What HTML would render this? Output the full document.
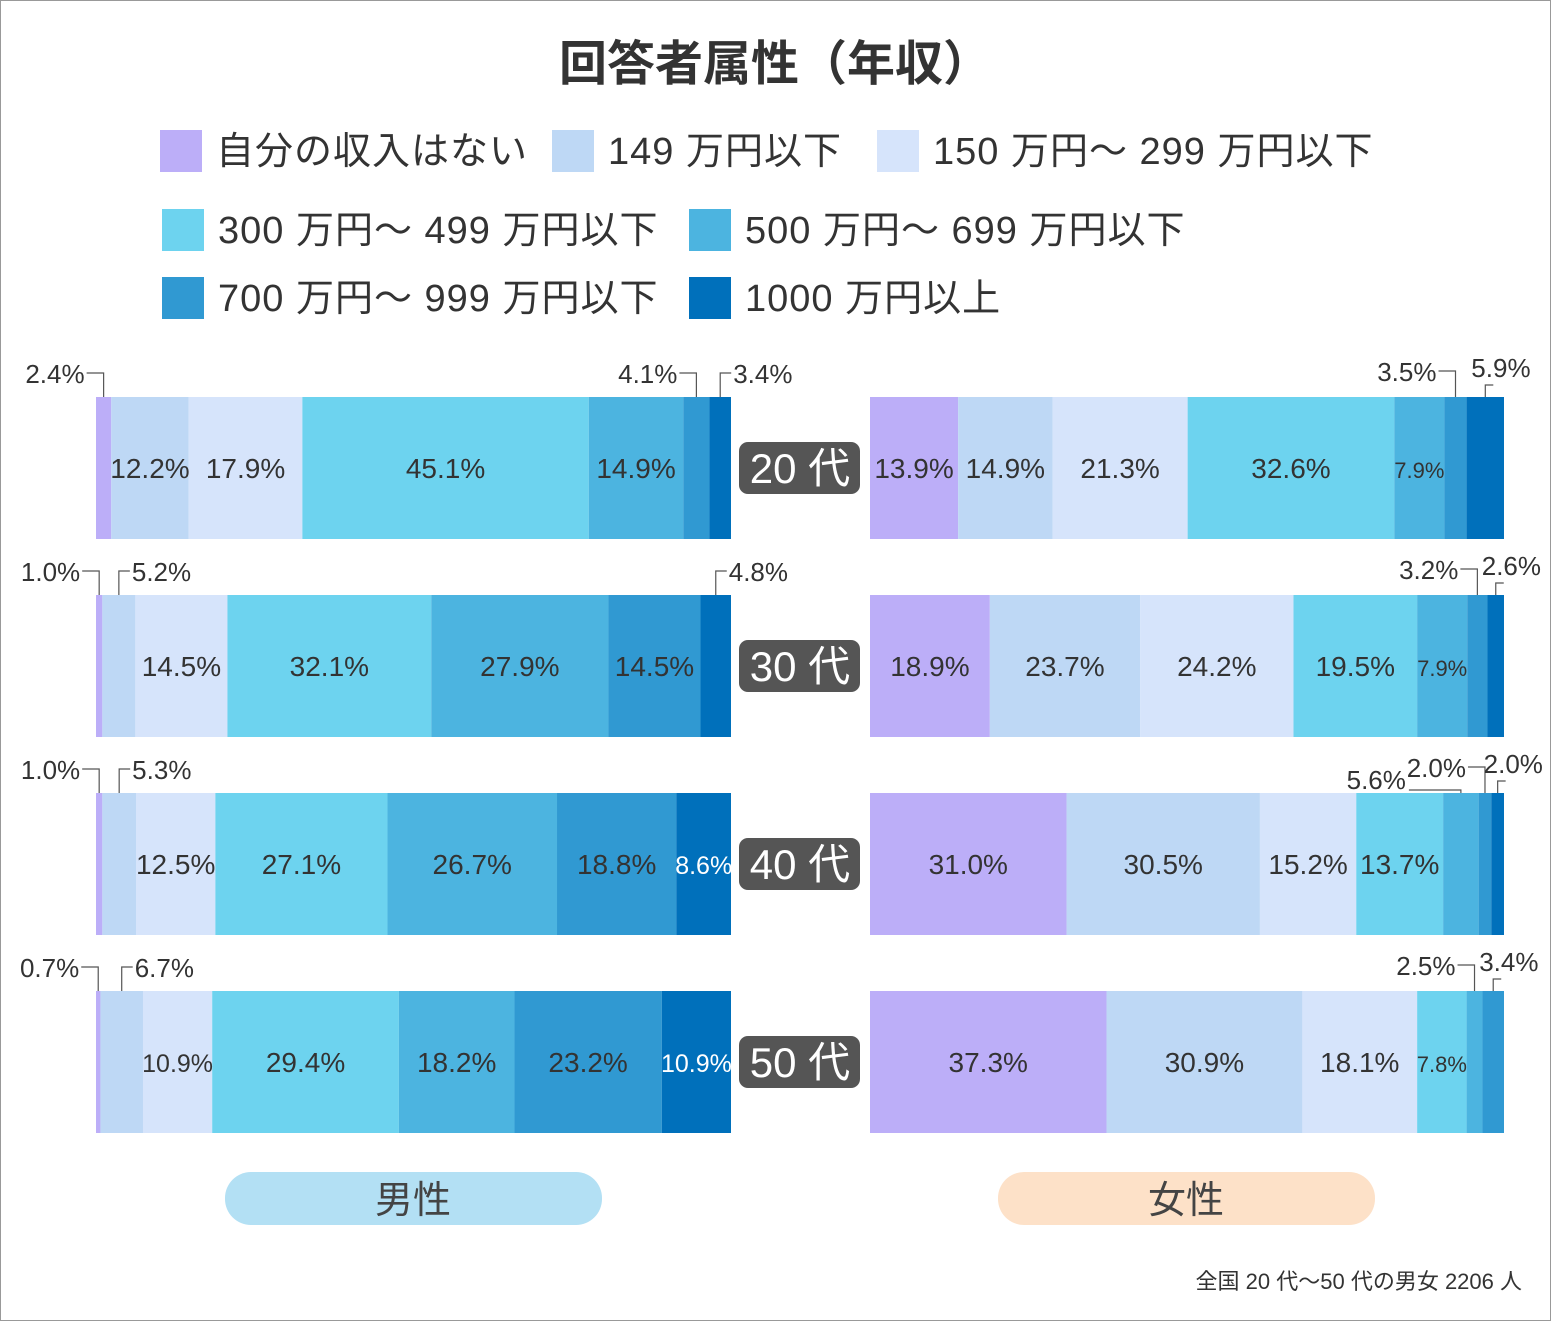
<!DOCTYPE html>
<html><head><meta charset="utf-8">
<style>
body{margin:0;background:#fff;}
svg{display:block;font-family:"Liberation Sans","Noto Sans CJK JP",sans-serif;}
</style></head>
<body>
<svg id="chart" width="1551" height="1321" viewBox="0 0 1551 1321" xmlns="http://www.w3.org/2000/svg">
<rect x="0.5" y="0.5" width="1550" height="1320" fill="#fff" stroke="#999"/>
<text x="775" y="80" text-anchor="middle" font-size="48" font-weight="bold" fill="#333">回答者属性（年収）</text>
<g id="legend"></g>
<g id="bars"></g>
<rect x="225" y="1172" width="377" height="53" rx="26" fill="#b3e0f4"/>
<text x="413" y="1213" text-anchor="middle" font-size="38" fill="#444">男性</text>
<rect x="998" y="1172" width="377" height="53" rx="26" fill="#fde1c8"/>
<text x="1186" y="1213" text-anchor="middle" font-size="38" fill="#444">女性</text>
<text x="1522" y="1289" text-anchor="end" font-size="22" fill="#333">全国 20 代〜50 代の男女 2206 人</text>
</svg>
<script>
const categories = ["自分の収入はない","149 万円以下","150 万円〜 299 万円以下","300 万円〜 499 万円以下","500 万円〜 699 万円以下","700 万円〜 999 万円以下","1000 万円以上"];
const ages = ["20 代","30 代","40 代","50 代"];
const maleValues = [
  [2.4,12.2,17.9,45.1,14.9,4.1,3.4],
  [1.0,5.2,14.5,32.1,27.9,14.5,4.8],
  [1.0,5.3,12.5,27.1,26.7,18.8,8.6],
  [0.7,6.7,10.9,29.4,18.2,23.2,10.9]
];
const femaleValues = [
  [13.9,14.9,21.3,32.6,7.9,3.5,5.9],
  [18.9,23.7,24.2,19.5,7.9,3.2,2.6],
  [31.0,30.5,15.2,13.7,5.6,2.0,2.0],
  [37.3,30.9,18.1,7.8,2.5,3.4,0]
];
const colors = ["#bcaef8","#bed8f5","#d6e4fb","#6dd3ef","#4cb4e0","#3099d2","#0070bb"];
const NS="http://www.w3.org/2000/svg";
function mk(tag,attrs,parent){const e=document.createElementNS(NS,tag);for(const k in attrs)e.setAttribute(k,attrs[k]);parent.appendChild(e);return e;}
const lg=document.getElementById('legend');
const legendPos=[[160,130],[552,130],[877,130],[162,209],[689,209],[162,277],[689,277]];
categories.forEach((c,i)=>{
  const r=mk('rect',{x:legendPos[i][0],y:legendPos[i][1],width:42,height:42,fill:colors[i]},lg);
  
  
  const t=mk('text',{x:legendPos[i][0]+56,y:legendPos[i][1]+34,'font-size':38,fill:'#333','letter-spacing':'1'},lg);
  t.textContent=c;
  
  
});
const bg=document.getElementById('bars');
const rowTop=[397,595,793,991], barH=142;
function xScale(x0,w,v){return x0+w*v/100;}
function drawBar(vals,x0,w,top,side,row){
  let acc=0; const segs=[];
  vals.forEach((v,i)=>{
    const xa=xScale(x0,w,acc), xb=xScale(x0,w,acc+v); acc+=v;
    if(v<=0)return;
    const r=mk('rect',{x:xa,y:top,width:xb-xa,height:barH,fill:colors[i]},bg);
    
    
    segs.push({v,i,xa,xb});
  });
  const outs=segs.filter(s=>s.xb-s.xa<45);
  segs.forEach(s=>{
    const wpx=s.xb-s.xa;
    if(wpx>=45){
      const fs=wpx<51?22:(wpx<72?25:28);
      const t=mk('text',{x:(s.xa+s.xb)/2,y:top+barH/2+10,'text-anchor':'middle','font-size':fs,fill:s.i===6?'#fff':'#333'},bg);
      t.textContent=s.v.toFixed(1)+'%';
      
      
    }
  });
  const nL = outs.filter((s,k)=>!((k===outs.length-1 && s.i>0) || (k===1 && s.i===1))).length;
  let lCount=0;
  outs.forEach((s,k)=>{
    const cx=(s.xa+s.xb)/2;
    const rightMode = (k===outs.length-1 && s.i>0) || (k===1 && s.i===1);
    let ty=top-14;
    let tx,anchor;
    const rightEdge = side==='female' && rightMode;
    if(rightMode){
      if(rightEdge){ ty=top-20; tx=cx-14;
        mk('polyline',{points:`${cx},${top} ${cx},${top-12} ${cx+8},${top-12}`,fill:'none',stroke:'#555','stroke-width':1.2},bg);
      } else { tx=cx+13;
        mk('polyline',{points:`${cx},${top} ${cx},${ty-10} ${cx+11},${ty-10}`,fill:'none',stroke:'#555','stroke-width':1.2},bg);
      }
      anchor='start';
    } else {
      lCount++;
      anchor='end';
      if(nL>=2 && lCount===1 && side==='female'){
        ty=top-4; tx=cx-55;
        mk('polyline',{points:`${cx},${top} ${cx},${top-3} ${cx-52},${top-3}`,fill:'none',stroke:'#555','stroke-width':1.2},bg);
      } else {
        tx=cx-19;
        if(side==='female') ty=top-16;
        mk('polyline',{points:`${cx},${top} ${cx},${ty-10} ${cx-17},${ty-10}`,fill:'none',stroke:'#555','stroke-width':1.2},bg);
      }
    }
    const t=mk('text',{x:tx,y:ty,'text-anchor':anchor,'font-size':26,fill:'#333'},bg);
    t.textContent=s.v.toFixed(1)+'%';
    
    
  });
}
ages.forEach((a,r)=>{
  drawBar(maleValues[r],96,635,rowTop[r],'male',r);
  drawBar(femaleValues[r],870,634,rowTop[r],'female',r);
  const cy=rowTop[r]+barH/2;
  const b=mk('rect',{x:739,y:cy-26,width:121,height:52,rx:9,fill:'#555'},bg);
  
  
  const t=mk('text',{x:800,y:cy+15,'text-anchor':'middle','font-size':42,fill:'#fff'},bg);
  t.textContent=a;
  
  
});
</script>
</body></html>
